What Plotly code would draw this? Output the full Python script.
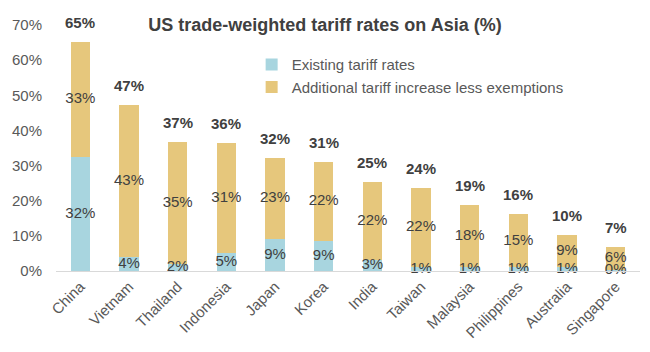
import plotly.graph_objects as go

countries = ["China", "Vietnam", "Thailand", "Indonesia", "Japan", "Korea", "India",
             "Taiwan", "Malaysia", "Philippines", "Australia", "Singapore"]
existing = [32.4, 4.0, 2.0, 5.1, 9.1, 8.6, 3.0, 1.2, 1.0, 1.0, 1.0, 0.3]
additional = [32.8, 43.2, 34.6, 31.3, 23.0, 22.4, 22.3, 22.4, 17.8, 15.2, 9.2, 6.4]
existing_labels = ["32%", "4%", "2%", "5%", "9%", "9%", "3%", "1%", "1%", "1%", "1%", "0%"]
additional_labels = ["33%", "43%", "35%", "31%", "23%", "22%", "22%", "22%", "18%", "15%", "9%", "6%"]
total_labels = ["65%", "47%", "37%", "36%", "32%", "31%", "25%", "24%", "19%", "16%", "10%", "7%"]
y_ticks = [0, 10, 20, 30, 40, 50, 60, 70]

blue = "#a8d5df"
tan = "#e6c77c"
txt = "#404040"
gray = "#595959"
font = "Liberation Sans, Arial, sans-serif"

totals = [e + a for e, a in zip(existing, additional)]

fig = go.Figure()
fig.add_trace(go.Bar(x=countries, y=existing, name="Existing tariff rates",
                     marker=dict(color=blue, line=dict(width=0))))
fig.add_trace(go.Bar(x=countries, y=additional, name="Additional tariff increase less exemptions",
                     marker=dict(color=tan, line=dict(width=0))))

# segment labels
fig.add_trace(go.Scatter(x=countries, y=[e / 2 for e in existing], mode="text",
                         text=existing_labels, textposition="middle center",
                         textfont=dict(family=font, size=15, color=txt),
                         showlegend=False, hoverinfo="skip", cliponaxis=False))
fig.add_trace(go.Scatter(x=countries, y=[e + a / 2 for e, a in zip(existing, additional)],
                         mode="text", text=additional_labels, textposition="middle center",
                         textfont=dict(family=font, size=15, color=txt),
                         showlegend=False, hoverinfo="skip", cliponaxis=False))

for c, t, lab in zip(countries, totals, total_labels):
    fig.add_annotation(x=c, y=t, text="<b>" + lab + "</b>", showarrow=False,
                       yanchor="bottom", yshift=9,
                       font=dict(family=font, size=15, color=txt))

fig.update_layout(
    width=650, height=352,
    barmode="stack", bargap=0.6,
    paper_bgcolor="white", plot_bgcolor="white",
    margin=dict(l=56, r=10, t=25, b=81),
    title=dict(text="<b>US trade-weighted tariff rates on Asia (%)</b>",
               x=0.5, xanchor="center", y=0.93, yanchor="middle",
               font=dict(family=font, size=18, color=txt)),
    legend=dict(x=0.335, y=0.905, xanchor="left", yanchor="top",
                font=dict(family=font, size=15, color=gray),
                bgcolor="rgba(0,0,0,0)", traceorder="normal",
                itemwidth=30, tracegroupgap=0),
    xaxis=dict(tickangle=-45, tickfont=dict(family=font, size=15, color=gray),
               showline=True, linecolor="#d9d9d9", linewidth=1,
               showgrid=False, ticks="", range=[-0.5, 11.5]),
    yaxis=dict(range=[0, 70], tickvals=y_ticks,
               ticktext=[f"{v}%" for v in y_ticks],
               tickfont=dict(family=font, size=15, color=gray),
               showgrid=False, zeroline=False, showline=False, ticks="",
               ticklabelstandoff=13),
)

fig.write_html("out.html")
